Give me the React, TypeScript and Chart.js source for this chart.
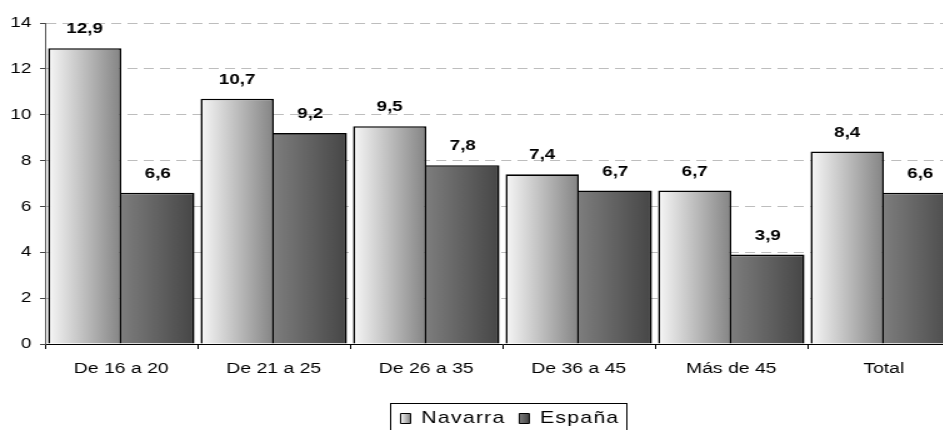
import React, { useEffect, useRef } from "react";
import { Chart, registerables } from "chart.js";

Chart.register(...registerables);

// ---- data ----
const categories = ["De 16 a 20", "De 21 a 25", "De 26 a 35", "De 36 a 45", "Más de 45", "Total"];
const navarraValues = [12.9, 10.7, 9.5, 7.4, 6.7, 8.4];
const espanaValues = [6.6, 9.2, 7.8, 6.7, 3.9, 6.6];
const seriesNames = ["Navarra", "España"];
const yMin = 0;
const yMax = 14;
const yStep = 2;

// ---- presentation ----
const STRETCH = 1.25; // horizontal stretch of the whole picture
const INNER_W = 780;
const INNER_H = 437;
const FONT = "'Liberation Sans', Arial, Helvetica, sans-serif";
const CAT_PCT = 0.96;
const LEGEND_CENTER = 408;
const LEGEND_FONT = 17;
const LEGEND_BOX_W = 8;
const LEGEND_SPACING = "1px";

const navarraStops: [string, string] = ["#f7f7f7", "#848484"];
const espanaStops: [string, string] = ["#7d7d7d", "#464646"];
const stopsByDataset = [navarraStops, espanaStops];

const makeFill = (stops: [string, string], side: number, solid: string) => (ctx: any) => {
  const chart = ctx.chart;
  const x = chart.scales && chart.scales.x;
  if (ctx.type !== "data" || !x || !chart.chartArea) return solid;
  const center = x.getPixelForValue(ctx.dataIndex);
  const barW = ((x.width / categories.length) * CAT_PCT) / 2;
  const left = side === 0 ? center - barW : center;
  const g = chart.ctx.createLinearGradient(left, 0, left + barW, 0);
  g.addColorStop(0, stops[0]);
  g.addColorStop(1, stops[1]);
  return g;
};

const fmt = (v: number) => v.toFixed(1).replace(".", ",");

const valueLabels = {
  id: "valueLabels",
  afterDatasetsDraw(chart: any) {
    const c = chart.ctx;
    c.save();
    c.font = `bold 15px ${FONT}`;
    c.fillStyle = "#000";
    c.textAlign = "center";
    c.textBaseline = "middle";
    chart.data.datasets.forEach((ds: any, di: number) => {
      const meta = chart.getDatasetMeta(di);
      meta.data.forEach((el: any, i: number) => {
        c.fillText(fmt(ds.data[i] as number), el.x, el.y - 19);
      });
    });
    c.restore();
  },
};

const legendFrame = {
  id: "legendFrame",
  afterInit(chart: any) {
    const lg = chart.legend;
    if (!lg || lg.__wrapped) return;
    lg.__wrapped = true;
    const wrap = (name: string) => {
      const orig = lg[name].bind(lg);
      lg[name] = (...args: any[]) => {
        const c = lg.ctx || chart.ctx;
        const prev = c.letterSpacing;
        c.letterSpacing = LEGEND_SPACING;
        try {
          return orig(...args);
        } finally {
          c.letterSpacing = prev || "0px";
        }
      };
    };
    wrap("fit");
    wrap("draw");
  },
  afterLayout(chart: any) {
    const lg = chart.legend;
    if (!lg) return;
    const dx = LEGEND_CENTER - (lg.left + lg.right) / 2;
    lg.left += dx;
    lg.right += dx;
  },
  afterUpdate(chart: any) {
    const lg = chart.legend;
    if (!lg || !lg.legendItems || !lg.legendHitBoxes) return;
    lg.legendItems.forEach((item: any, i: number) => {
      const hb = lg.legendHitBoxes[i];
      const stops = stopsByDataset[item.datasetIndex];
      if (!hb || !stops) return;
      const g = chart.ctx.createLinearGradient(hb.left, 0, hb.left + LEGEND_BOX_W, 0);
      g.addColorStop(0, stops[0]);
      g.addColorStop(1, stops[1]);
      item.fillStyle = g;
      item.lineWidth = 1;
    });
  },
  afterDraw(chart: any) {
    const lg = chart.legend;
    if (!lg || !lg.legendHitBoxes || !lg.legendHitBoxes.length) return;
    const hb = lg.legendHitBoxes;
    let l = Infinity, r = -Infinity, t = Infinity, b = -Infinity;
    hb.forEach((h: any) => {
      l = Math.min(l, h.left);
      r = Math.max(r, h.left + h.width);
      t = Math.min(t, h.top);
      b = Math.max(b, h.top + h.height);
    });
    const c = chart.ctx;
    c.save();
    c.strokeStyle = "#000";
    c.lineWidth = 1;
    c.strokeRect(Math.round(l - 8) + 0.5, Math.round(t - 7) + 0.5, Math.round(r - l + 14), Math.round(b - t + 14));
    c.restore();
  },
};

export default function App() {
  const ref = useRef<HTMLCanvasElement>(null);

  useEffect(() => {
    if (!ref.current) return;
    const chart = new Chart(ref.current, {
      type: "bar",
      data: {
        labels: categories,
        datasets: [
          {
            label: seriesNames[0],
            data: navarraValues,
            backgroundColor: makeFill(navarraStops, 0, "#c9c9c9"),
            borderColor: "#000",
            borderWidth: { top: 1.6, left: 1.6, right: 1.6, bottom: 0 },
            categoryPercentage: CAT_PCT,
            barPercentage: 1,
          },
          {
            label: seriesNames[1],
            data: espanaValues,
            backgroundColor: makeFill(espanaStops, 1, "#606060"),
            borderColor: "#000",
            borderWidth: { top: 1.6, left: 0, right: 1.6, bottom: 0 },
            categoryPercentage: CAT_PCT,
            barPercentage: 1,
          },
        ],
      },
      options: {
        responsive: false,
        animation: false,
        devicePixelRatio: 1,
        events: [],
        layout: { padding: { top: 23, right: 12, bottom: 0, left: 0 } },
        scales: {
          x: {
            offset: true,
            grid: {
              display: true,
              drawOnChartArea: false,
              drawTicks: true,
              tickLength: 5,
              tickColor: "#000",
              offset: true,
            },
            border: { display: true, color: "#000", width: 1 },
            ticks: {
              font: { family: FONT, size: 15.5 },
              color: "#000",
              padding: 10,
              maxRotation: 0,
              autoSkip: false,
            },
            afterFit: (s: any) => {
              s.height = 55;
            },
          },
          y: {
            min: yMin,
            max: yMax,
            ticks: {
              stepSize: yStep,
              font: { family: FONT, size: 15 },
              color: "#000",
              padding: 7,
            },
            grid: {
              color: (c: any) => (c.tick && c.tick.value === 0 ? "rgba(0,0,0,0)" : "#bdbdbd"),
              tickColor: "#444",
              tickLength: 4,
              lineWidth: 1,
            },
            border: { display: true, color: "#555", width: 1, dash: [8, 5] },
            afterFit: (s: any) => {
              s.width = 36;
            },
          },
        },
        plugins: {
          legend: {
            position: "bottom",
            labels: {
              font: { family: FONT, size: LEGEND_FONT },
              color: "#000",
              boxWidth: LEGEND_BOX_W,
              boxHeight: 10,
              padding: 11,
            },
          },
          tooltip: { enabled: false },
        },
      },
      plugins: [valueLabels, legendFrame],
    } as any);
    return () => chart.destroy();
  }, []);

  return (
    <div
      style={{
        position: "fixed",
        left: 0,
        top: 0,
        width: 943,
        height: 430,
        overflow: "hidden",
        background: "#fff",
      }}
    >
      <canvas
        ref={ref}
        width={INNER_W}
        height={INNER_H}
        style={{ width: INNER_W * STRETCH, height: INNER_H }}
      />
    </div>
  );
}
